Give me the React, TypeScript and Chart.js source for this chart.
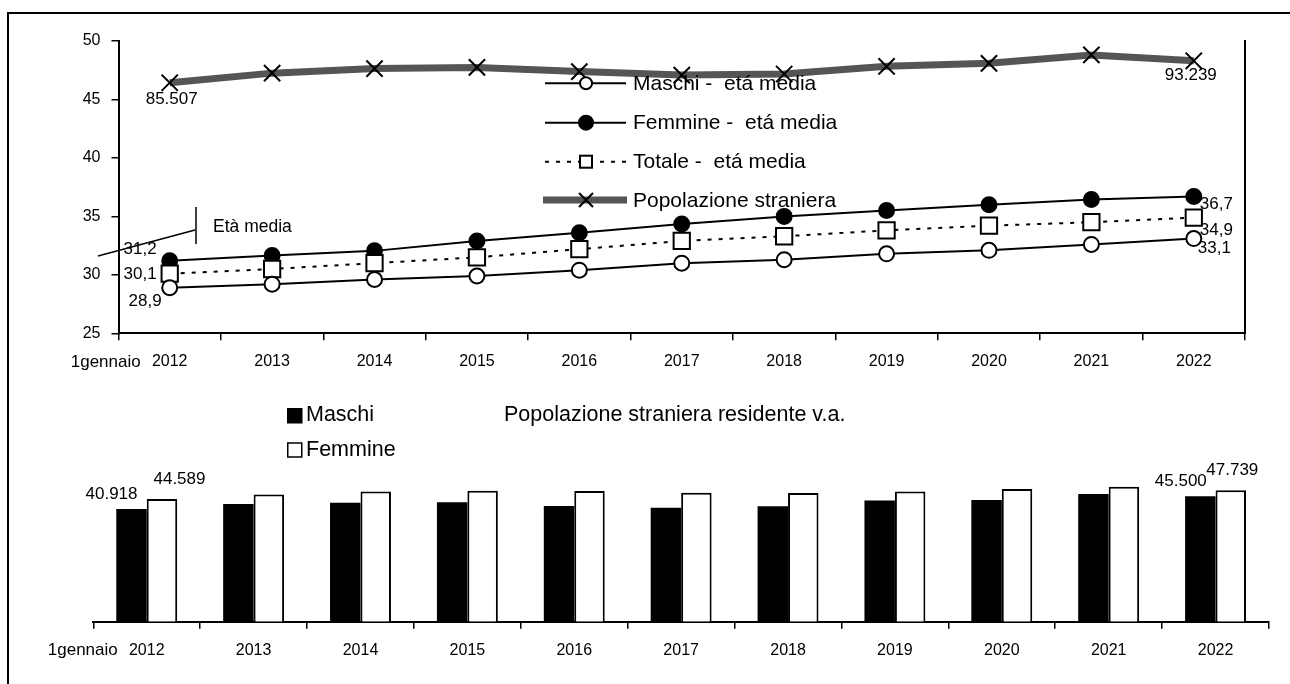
import React, { useEffect, useRef } from 'react';
import { Chart, registerables } from 'chart.js';

Chart.register(...registerables);

const FONT = "'Liberation Sans', Arial, sans-serif";
Chart.defaults.font.family = FONT;
Chart.defaults.color = '#000';

// ---- data ----
const anni = ['2012', '2013', '2014', '2015', '2016', '2017', '2018', '2019', '2020', '2021', '2022'];
const maschiEta = [28.9, 29.2, 29.6, 29.9, 30.4, 31.0, 31.3, 31.8, 32.1, 32.6, 33.1];
const femmineEta = [31.2, 31.65, 32.05, 32.9, 33.6, 34.35, 35.0, 35.5, 36.0, 36.45, 36.7];
const totaleEta = [30.1, 30.5, 31.0, 31.5, 32.2, 32.9, 33.3, 33.8, 34.2, 34.5, 34.9];
const stranieriTotale = [85507, 88900, 90500, 90900, 89450, 88200, 88600, 91300, 92350, 95300, 93239];
const stranieriMaschi = [40918, 42700, 43200, 43400, 42000, 41400, 41900, 44000, 44150, 46350, 45500];
const stranieriFemmine = [44589, 46200, 47300, 47500, 47450, 46800, 46700, 47300, 48200, 48950, 47739];
const etaMin = 25;
const etaMax = 50;
const etaStep = 5;
const primaEtichetta = '1gennaio';
const legendaEta = ['Maschi -  etá media', 'Femmine -  etá media', 'Totale -  etá media', 'Popolazione straniera'];
const legendaBarre = ['Maschi', 'Femmine'];
const titoloBarre = 'Popolazione straniera residente v.a.';
const annotazione = 'Età media';

const fmtMigliaia = (n: number) => String(Math.round(n)).replace(/\B(?=(\d{3})+(?!\d))/g, '.');
const fmtDec = (v: number) => v.toFixed(1).replace('.', ',');

function drawMarker(ctx: CanvasRenderingContext2D, style: string, x: number, y: number, r: number, fill: string) {
  ctx.save();
  ctx.setLineDash([]);
  ctx.strokeStyle = '#000';
  ctx.lineWidth = 2;
  ctx.fillStyle = fill;
  if (style === 'circle') {
    ctx.beginPath();
    ctx.arc(x, y, r, 0, Math.PI * 2);
    ctx.fill();
    ctx.stroke();
  } else if (style === 'rect') {
    ctx.fillRect(x - r, y - r, 2 * r, 2 * r);
    ctx.strokeRect(x - r, y - r, 2 * r, 2 * r);
  } else {
    ctx.beginPath();
    ctx.moveTo(x - r, y - r);
    ctx.lineTo(x + r, y + r);
    ctx.moveTo(x + r, y - r);
    ctx.lineTo(x - r, y + r);
    ctx.stroke();
  }
  ctx.restore();
}

const topDecor = {
  id: 'topDecor',
  afterDraw(chart: any) {
    const ctx: CanvasRenderingContext2D = chart.ctx;
    const xs = chart.scales.x;
    const last = anni.length - 1;
    const pt = (di: number, i: number) => chart.getDatasetMeta(di).data[i];
    ctx.save();
    ctx.fillStyle = '#000';
    ctx.strokeStyle = '#000';
    ctx.textBaseline = 'middle';

    // "1gennaio"
    ctx.font = `17px ${FONT}`;
    ctx.textAlign = 'right';
    ctx.fillText(primaEtichetta, xs.getPixelForValue(0) - 29, xs.top + 7 + 12 + 9.6);

    // data labels
    let p = pt(3, 0);
    ctx.textAlign = 'center';
    ctx.fillText(fmtMigliaia(stranieriTotale[0]), p.x + 2, p.y + 17);
    p = pt(3, last);
    ctx.fillText(fmtMigliaia(stranieriTotale[last]), p.x - 3, p.y + 15);

    ctx.textAlign = 'right';
    p = pt(1, 0);
    ctx.fillText(fmtDec(femmineEta[0]), p.x - 13, p.y - 11);
    p = pt(2, 0);
    ctx.fillText(fmtDec(totaleEta[0]), p.x - 13, p.y + 1);
    p = pt(0, 0);
    ctx.fillText(fmtDec(maschiEta[0]), p.x - 8, p.y + 14);

    ctx.textAlign = 'left';
    p = pt(1, last);
    ctx.fillText(fmtDec(femmineEta[last]), p.x + 6, p.y + 8);
    p = pt(2, last);
    ctx.fillText(fmtDec(totaleEta[last]), p.x + 6, p.y + 13);
    p = pt(0, last);
    ctx.fillText(fmtDec(maschiEta[last]), p.x + 4, p.y + 10);

    // "Età media" annotation
    ctx.lineWidth = 1.5;
    ctx.beginPath();
    ctx.moveTo(98, 256);
    ctx.lineTo(195, 230);
    ctx.moveTo(196, 207);
    ctx.lineTo(196, 244);
    ctx.stroke();
    ctx.font = `17.5px ${FONT}`;
    ctx.textAlign = 'left';
    ctx.fillText(annotazione, 213, 227);

    // legend
    const rows = [83.3, 122.7, 161.7, 200];
    const ds = chart.data.datasets;
    const lx0 = 545, lx1 = 626, mx = 586, tx = 633;
    ctx.font = `21px ${FONT}`;
    for (let i = 0; i < 4; i++) {
      const d = ds[i];
      const y = rows[i];
      ctx.save();
      ctx.strokeStyle = d.borderColor;
      ctx.lineWidth = d.borderWidth;
      ctx.setLineDash(d.borderDash || []);
      ctx.beginPath();
      if (i === 3) {
        ctx.moveTo(lx0 - 2, y);
        ctx.lineTo(lx1 + 1, y);
      } else {
        ctx.moveTo(lx0, y);
        ctx.lineTo(lx1, y);
      }
      ctx.stroke();
      ctx.restore();
      const sz = i === 0 ? 6 : i === 1 ? 7 : i === 2 ? 6 : 7;
      drawMarker(ctx, d.pointStyle, mx, y, sz, d.pointBackgroundColor);
      ctx.fillStyle = '#000';
      ctx.textAlign = 'left';
      ctx.fillText(legendaEta[i], tx, y + 1);
    }
    ctx.restore();
  },
};

const bottomDecor = {
  id: 'bottomDecor',
  afterDraw(chart: any) {
    const ctx: CanvasRenderingContext2D = chart.ctx;
    const xs = chart.scales.x;
    const last = anni.length - 1;
    const bar = (di: number, i: number) => chart.getDatasetMeta(di).data[i];
    ctx.save();
    ctx.fillStyle = '#000';
    ctx.textBaseline = 'middle';
    ctx.font = `17px ${FONT}`;
    ctx.textAlign = 'right';
    ctx.fillText(primaEtichetta, xs.getPixelForValue(0) - 29, xs.top + 7 + 12 + 9.6);

    ctx.textAlign = 'center';
    let b = bar(0, 0);
    ctx.fillText(fmtMigliaia(stranieriMaschi[0]), b.x - 20, b.y - 15);
    b = bar(1, 0);
    ctx.fillText(fmtMigliaia(stranieriFemmine[0]), b.x + 17.5, b.y - 20);
    b = bar(0, last);
    ctx.fillText(fmtMigliaia(stranieriMaschi[last]), b.x - 19.5, b.y - 15);
    b = bar(1, last);
    ctx.fillText(fmtMigliaia(stranieriFemmine[last]), b.x + 1.5, b.y - 20);

    // legend
    ctx.font = `21.5px ${FONT}`;
    ctx.textAlign = 'left';
    ctx.fillStyle = '#000';
    ctx.fillRect(287, 28, 15.5, 15.5);
    ctx.fillText(legendaBarre[0], 306, 35.5);
    ctx.fillStyle = '#fff';
    ctx.strokeStyle = '#000';
    ctx.lineWidth = 1.5;
    ctx.fillRect(287.75, 63, 14, 14);
    ctx.strokeRect(287.75, 63, 14, 14);
    ctx.fillStyle = '#000';
    ctx.fillText(legendaBarre[1], 306, 70);

    ctx.fillText(titoloBarre, 504, 35.5);
    ctx.restore();
  },
};

export default function App() {
  const topRef = useRef<HTMLCanvasElement>(null);
  const botRef = useRef<HTMLCanvasElement>(null);

  useEffect(() => {
    const tickFont = { size: 16, family: FONT };
    const top = new Chart(topRef.current as HTMLCanvasElement, {
      type: 'line',
      data: {
        labels: anni,
        datasets: [
          {
            label: legendaEta[0], data: maschiEta, yAxisID: 'y',
            borderColor: '#000', borderWidth: 2,
            pointStyle: 'circle', pointRadius: 7.5, pointBackgroundColor: '#fff',
            pointBorderColor: '#000', pointBorderWidth: 2, order: 1,
          },
          {
            label: legendaEta[1], data: femmineEta, yAxisID: 'y',
            borderColor: '#000', borderWidth: 2,
            pointStyle: 'circle', pointRadius: 7.5, pointBackgroundColor: '#000',
            pointBorderColor: '#000', pointBorderWidth: 2, order: 3,
          },
          {
            label: legendaEta[2], data: totaleEta, yAxisID: 'y',
            borderColor: '#000', borderWidth: 2, borderDash: [4, 7],
            pointStyle: 'rect', pointRadius: 11.5, pointBackgroundColor: '#fff',
            pointBorderColor: '#000', pointBorderWidth: 2, order: 2,
          },
          {
            label: legendaEta[3], data: stranieriTotale, yAxisID: 'y2',
            borderColor: '#555555', borderWidth: 7,
            pointStyle: 'crossRot', pointRadius: 11.5, pointBackgroundColor: '#000',
            pointBorderColor: '#000', pointBorderWidth: 2, order: 4,
          },
        ],
      } as any,
      options: {
        animation: false,
        responsive: false,
        maintainAspectRatio: false,
        layout: { padding: { left: 0, top: 41, right: 45, bottom: 0 } },
        plugins: { legend: { display: false }, tooltip: { enabled: false } },
        scales: {
          x: {
            offset: true,
            grid: { offset: true, drawOnChartArea: false, drawTicks: true, tickLength: 7, color: '#000', lineWidth: 1.5 },
            border: { display: true, color: '#000', width: 2 },
            ticks: { padding: 12, font: tickFont, color: '#000', maxRotation: 0, autoSkip: false },
            afterFit: (s: any) => { s.height = 46.7; },
          },
          y: {
            min: etaMin, max: etaMax,
            ticks: { stepSize: etaStep, padding: 11, font: tickFont, color: '#000' },
            grid: { drawOnChartArea: false, tickLength: 7, color: '#000', lineWidth: 1.5 },
            border: { display: true, color: '#000', width: 2 },
            afterFit: (s: any) => { s.width = 118.5; },
          },
          y2: {
            position: 'right', min: -2600, max: 100200,
            ticks: { display: false },
            grid: { drawOnChartArea: false, drawTicks: false },
            border: { display: true, color: '#000', width: 2 },
            afterFit: (s: any) => { s.width = 0; },
          },
        },
      } as any,
      plugins: [topDecor],
    });

    const bottom = new Chart(botRef.current as HTMLCanvasElement, {
      type: 'bar',
      data: {
        labels: anni,
        datasets: [
          {
            label: legendaBarre[0], data: stranieriMaschi,
            backgroundColor: '#000', borderColor: '#000', borderWidth: 0,
            categoryPercentage: 0.57, barPercentage: 1,
          },
          {
            label: legendaBarre[1], data: stranieriFemmine,
            backgroundColor: '#fff', borderColor: '#000', borderWidth: 2,
            categoryPercentage: 0.57, barPercentage: 1,
          },
        ],
      },
      options: {
        animation: false,
        responsive: false,
        maintainAspectRatio: false,
        layout: { padding: { left: 93.3, top: 90.2, right: 21, bottom: 0 } },
        plugins: { legend: { display: false }, tooltip: { enabled: false } },
        scales: {
          x: {
            grid: { offset: true, drawOnChartArea: false, drawTicks: true, tickLength: 7, color: '#000', lineWidth: 1.5 },
            border: { display: true, color: '#000', width: 2 },
            ticks: { padding: 12, font: tickFont, color: '#000', maxRotation: 0, autoSkip: false },
            afterFit: (s: any) => { s.height = 62.3; },
          },
          y: { display: false, min: 0, max: 55000 },
        },
      } as any,
      plugins: [bottomDecor],
    });

    return () => {
      top.destroy();
      bottom.destroy();
    };
  }, []);

  return (
    <div style={{ position: 'absolute', left: 0, top: 0, width: 1290, height: 684, overflow: 'hidden', background: '#fff' }}>
      <div style={{ position: 'absolute', left: 6.5, top: 12, width: 1400, height: 800, borderTop: '2px solid #000', borderLeft: '2px solid #000' }} />
      <canvas ref={topRef} width={1290} height={380} style={{ position: 'absolute', left: 0, top: 0, width: 1290, height: 380 }} />
      <canvas ref={botRef} width={1290} height={304} style={{ position: 'absolute', left: 0, top: 380, width: 1290, height: 304 }} />
    </div>
  );
}
